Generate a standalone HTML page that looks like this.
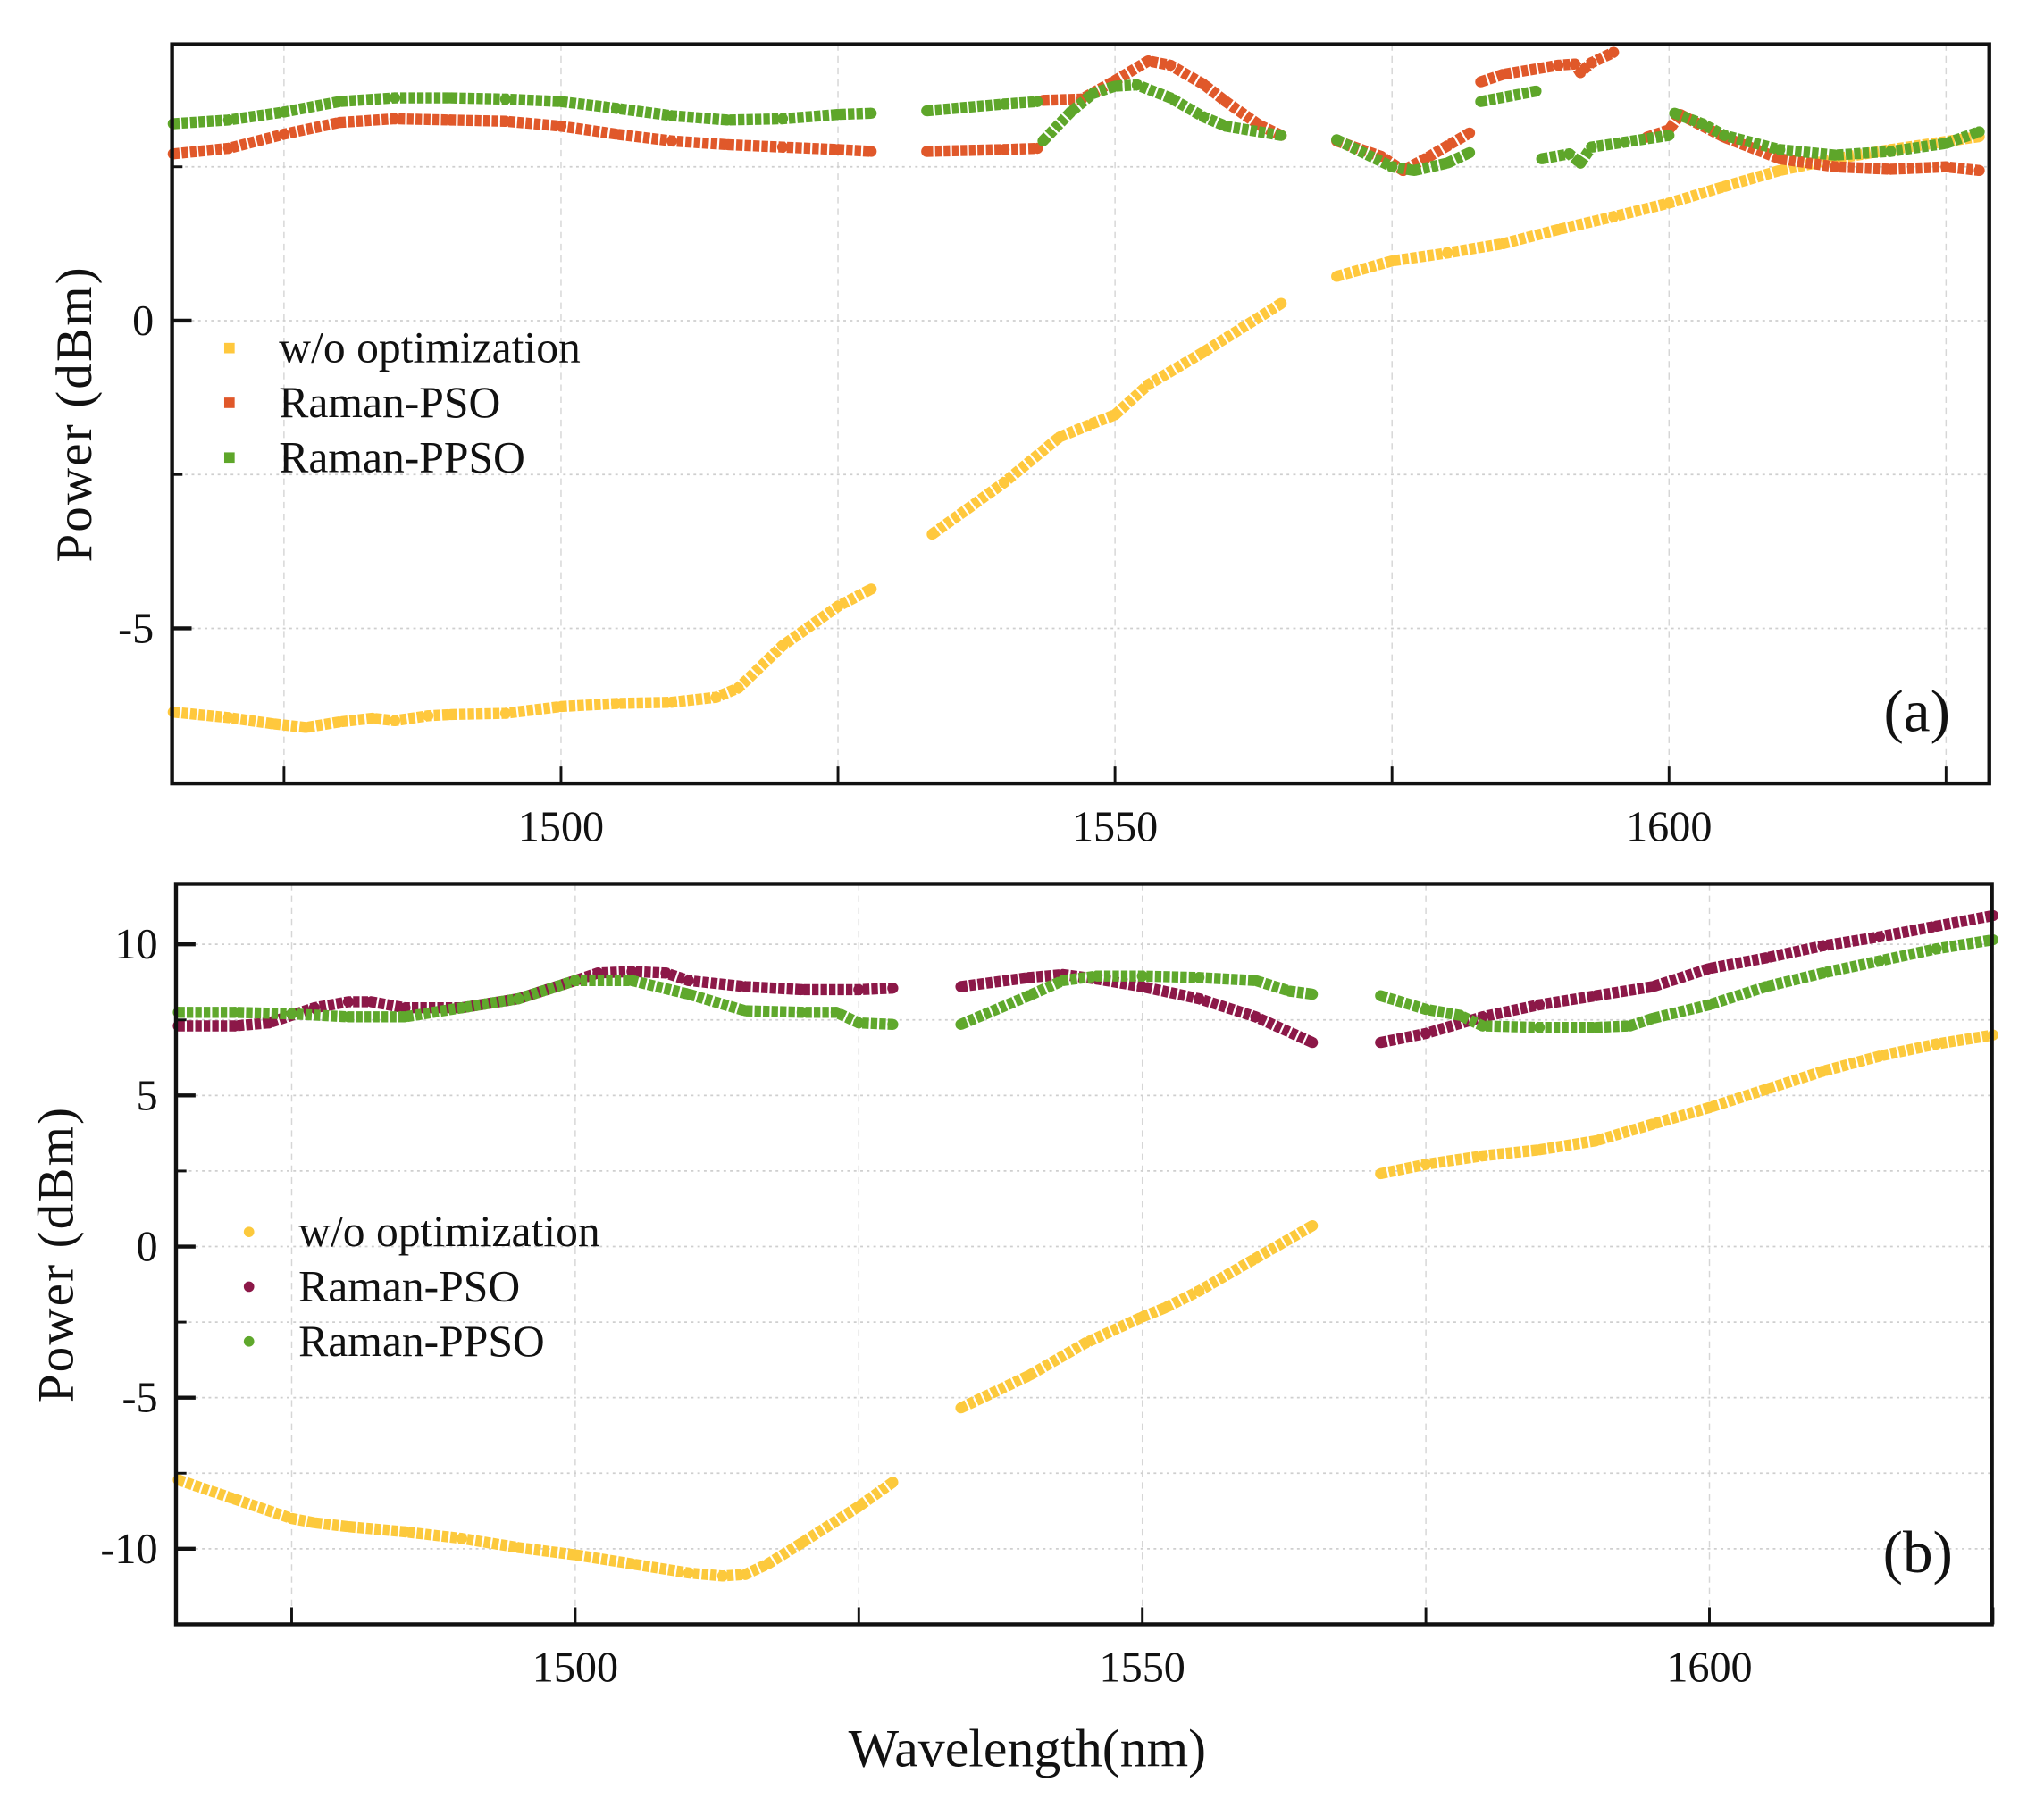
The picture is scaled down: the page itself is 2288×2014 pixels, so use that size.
<!DOCTYPE html>
<html><head><meta charset="utf-8"><style>
html,body{margin:0;padding:0;background:#fff;}
svg{display:block;}
text{font-family:"Liberation Serif",serif;fill:#111;}
</style></head><body>
<svg id="chart" width="2288" height="2014" viewBox="0 0 1568 1380" preserveAspectRatio="none" xmlns="http://www.w3.org/2000/svg">
<rect x="0" y="0" width="1568" height="1380" fill="#fff"/>
</svg>
<script>
// ---------- Panel (a) data ----------
const aYellowWl = [1465,1470,1474,1477,1480,1483,1485,1488,1490,1495,1500,1505,1510,1514,1516,1520,1525,1528,null,1533.5,1540,1545,1548,1550,1553,1558,1565,null,1570,1575,1580,1585,1590,1595,1600,1605,1610,1615,1620,1628];
const aYellowP  = [-6.36,-6.45,-6.55,-6.61,-6.52,-6.46,-6.50,-6.42,-6.40,-6.38,-6.27,-6.22,-6.20,-6.12,-5.97,-5.28,-4.64,-4.36,null,-3.47,-2.63,-1.89,-1.67,-1.53,-1.04,-0.51,0.28,null,0.72,0.97,1.10,1.25,1.48,1.69,1.91,2.18,2.44,2.63,2.78,2.99];
const aRedWl = [1465,1470,1475,1480,1485,1490,1495,1500,1505,1510,1515,1520,1525,1528,null,1533,1540,1543,null,1543.5,1547,1550,1553,1555,1558,1560,1563,1565,null,1570,1574,1576,1578,1580,1582,null,1583,1585,1590,1591.5,1592,1593,1595,null,1598,1600,1601,1605,1610,1615,1620,1625,1628];
const aRedP  = [2.71,2.80,3.03,3.22,3.28,3.26,3.24,3.16,3.03,2.92,2.86,2.82,2.78,2.75,null,2.75,2.78,2.80,null,3.58,3.60,3.90,4.22,4.15,3.84,3.56,3.18,3.01,null,2.92,2.67,2.44,2.63,2.84,3.05,null,3.88,4.00,4.15,4.17,4.03,4.19,4.36,null,2.98,3.10,3.35,2.98,2.63,2.50,2.46,2.50,2.44];
const aGreenWl = [1465,1470,1475,1480,1485,1490,1495,1500,1505,1510,1515,1520,1525,1528,null,1533,1540,1543,null,1543.5,1546,1548,1550,1552,1555,1558,1560,1565,null,1570,1575,1577,1580,1582,null,1583,1588,null,1588.5,1591,1592,1593,1596,1600,null,1600.5,1603,1605,1610,1615,1620,1625,1628];
const aGreenP  = [3.20,3.26,3.39,3.56,3.62,3.62,3.60,3.56,3.45,3.33,3.26,3.28,3.35,3.37,null,3.41,3.52,3.56,null,2.92,3.39,3.69,3.81,3.83,3.62,3.31,3.16,3.01,null,2.94,2.50,2.44,2.56,2.73,null,3.56,3.73,null,2.63,2.71,2.56,2.82,2.90,3.01,null,3.37,3.20,3.01,2.78,2.69,2.75,2.88,3.07];
// ---------- Panel (b) data ----------
const bYellowWl = [1465,1470,1475,1477,1480,1485,1490,1495,1500,1505,1510,1513,1515,1517,1520,1525,1528,null,1534,1540,1545,1550,1552,1555,1560,1565,null,1571,1575,1580,1585,1590,1595,1600,1605,1610,1615,1620,1625];
const bYellowP  = [-7.72,-8.36,-9.0,-9.14,-9.27,-9.44,-9.66,-9.96,-10.2,-10.5,-10.8,-10.9,-10.85,-10.5,-9.8,-8.6,-7.8,null,-5.34,-4.27,-3.19,-2.33,-2.03,-1.47,-0.39,0.69,null,2.41,2.72,3.0,3.2,3.5,4.05,4.6,5.2,5.8,6.3,6.7,7.0];
const bRedWl = [1465,1470,1473,1477,1480,1482,1485,1490,1495,1500,1502,1505,1508,1510,1515,1520,1525,1528,null,1534,1540,1543,1546,1550,1555,1560,1565,null,1571,1575,1580,1585,1590,1595,1600,1605,1610,1615,1620,1625];
const bRedP  = [7.3,7.3,7.4,7.9,8.1,8.1,7.9,7.9,8.2,8.8,9.05,9.1,9.05,8.8,8.6,8.5,8.5,8.55,null,8.6,8.9,9.0,8.85,8.6,8.2,7.6,6.75,null,6.75,7.05,7.6,8.0,8.3,8.6,9.2,9.55,9.95,10.25,10.6,10.95];
const bGreenWl = [1465,1470,1475,1480,1485,1490,1495,1500,1505,1510,1515,1520,1523,1525,1528,null,1534,1540,1543,1546,1550,1555,1560,1563,1565,null,1571,1575,1578,1580,1585,1590,1593,1595,1600,1605,1610,1615,1620,1625];
const bGreenP  = [7.75,7.75,7.7,7.6,7.6,7.9,8.2,8.8,8.8,8.35,7.8,7.75,7.75,7.4,7.35,null,7.35,8.3,8.8,8.95,8.95,8.9,8.8,8.45,8.35,null,8.3,7.85,7.65,7.3,7.25,7.25,7.3,7.55,8.0,8.6,9.05,9.45,9.85,10.15];
// ticks
const xTicks = [1500,1550,1600];
const xMinor = [1475,1525,1575,1625];
const aYTicks = [0,-5];
const aYGrid = [2.5,0,-2.5,-5];
const bYTicks = [10,5,0,-5,-10];
const bYGrid = [10,7.5,5,2.5,0,-2.5,-5,-7.5,-10];
const legendLabels = ["w/o optimization","Raman-PSO","Raman-PPSO"];

const NS="http://www.w3.org/2000/svg";
const svg=document.getElementById('chart');
function mk(tag,attrs,parent){const e=document.createElementNS(NS,tag);for(const k in attrs)e.setAttribute(k,attrs[k]);(parent||svg).appendChild(e);return e;}

function panel(cfg){
  const g=mk('g',{});
  
  
  const sx=w=>cfg.L+(w-cfg.x0)/(cfg.x1-cfg.x0)*(cfg.R-cfg.L);
  const sy=v=>cfg.B-(v-cfg.y0)/(cfg.y1-cfg.y0)*(cfg.B-cfg.T);
  xTicks.concat(xMinor).forEach(w=>{const l=mk('line',{x1:sx(w),x2:sx(w),y1:cfg.T,y2:cfg.B,stroke:'#d6d6d6','stroke-width':1,'stroke-dasharray':'5,4'},g);
    
    });
  cfg.yGrid.forEach(v=>{const l=mk('line',{x1:cfg.L,x2:cfg.R,y1:sy(v),y2:sy(v),stroke:'#cfcfcf','stroke-width':1.2,'stroke-dasharray':'2,3'},g);
    
    });
  cfg.series.forEach(s=>{
    const sg=mk('g',{},g);
    
    
    let seg=[];const segs=[];
    s.wl.forEach((w,i)=>{if(w===null||s.p[i]===null){if(seg.length)segs.push(seg);seg=[];}else seg.push([sx(w),sy(s.p[i])]);});
    if(seg.length)segs.push(seg);
    segs.forEach(sp=>{const pl=mk('polyline',{points:sp.map(p=>p.join(',')).join(' '),fill:'none',stroke:s.color,'stroke-width':8.5,'stroke-dasharray':'5,1.5','stroke-linejoin':'round'},sg);
      
      
      sp.forEach(p=>{const c=mk('circle',{cx:p[0],cy:p[1],r:4.2,fill:s.color},sg);
        
        });});
  });
  const fr=mk('rect',{x:cfg.L,y:cfg.T,width:cfg.R-cfg.L,height:cfg.B-cfg.T,fill:'none',stroke:'#111','stroke-width':3},g);
  
  
  xTicks.forEach(w=>{mk('line',{x1:sx(w),x2:sx(w),y1:cfg.B,y2:cfg.B-13,stroke:'#111','stroke-width':2},g);
    const t=mk('text',{x:sx(w),y:cfg.B+44,'text-anchor':'middle','font-size':33},g);t.textContent=w;
    
    });
  xMinor.forEach(w=>mk('line',{x1:sx(w),x2:sx(w),y1:cfg.B,y2:cfg.B-13,stroke:'#111','stroke-width':2},g));
  cfg.yGrid.forEach(v=>mk('line',{x1:cfg.L,x2:cfg.L+8,y1:sy(v),y2:sy(v),stroke:'#111','stroke-width':2},g));
  cfg.yTicks.forEach(v=>{mk('line',{x1:cfg.L,x2:cfg.L+15,y1:sy(v),y2:sy(v),stroke:'#111','stroke-width':3},g);
    const t=mk('text',{x:cfg.L-14,y:sy(v)+11,'text-anchor':'end','font-size':33},g);t.textContent=v;
    
    });
  const yl=mk('text',{x:0,y:0,'text-anchor':'middle','font-size':39,'letter-spacing':1.5,transform:`translate(${cfg.ylx},${(cfg.T+cfg.B)/2}) rotate(-90)`},g);
  yl.textContent='Power (dBm)';
  
  
  const pl=mk('text',{x:cfg.R-30,y:cfg.B-40,'text-anchor':'end','font-size':46},g);pl.textContent=cfg.label;
  
  
  cfg.series.forEach((s,i)=>{const y=cfg.legY+i*42;
    const m=cfg.square?mk('rect',{x:cfg.legX-4,y:y-4,width:8,height:8,fill:s.color},g):mk('circle',{cx:cfg.legX,cy:y,r:4,fill:s.color},g);
    
    
    const t=mk('text',{x:cfg.legX+38,y:y+11,'font-size':34},g);t.textContent=legendLabels[i];
    
    });
}
panel({name:'panel-a',L:132,R:1526,T:34,B:601,x0:1464.9,x1:1628.9,y0:-7.52,y1:4.49,yGrid:aYGrid,yTicks:aYTicks,ylx:70,label:'(a)',legX:176,legY:267,square:true,
  series:[{name:'series-wo-optimization-a',wl:aYellowWl,p:aYellowP,color:'#ffc83d'},{name:'series-raman-pso-a',wl:aRedWl,p:aRedP,color:'#e0582a'},{name:'series-raman-ppso-a',wl:aGreenWl,p:aGreenP,color:'#5ea62a'}]});
panel({name:'panel-b',L:135,R:1528,T:678,B:1246,x0:1464.8,x1:1624.9,y0:-12.5,y1:12,yGrid:bYGrid,yTicks:bYTicks,ylx:56,label:'(b)',legX:191,legY:945,square:false,
  series:[{name:'series-wo-optimization-b',wl:bYellowWl,p:bYellowP,color:'#fcc93c'},{name:'series-raman-pso-b',wl:bRedWl,p:bRedP,color:'#8c1848'},{name:'series-raman-ppso-b',wl:bGreenWl,p:bGreenP,color:'#5fa82c'}]});
const xt=mk('text',{x:788,y:1355,'text-anchor':'middle','font-size':41});
xt.textContent='Wavelength(nm)';


</script>
</body></html>
